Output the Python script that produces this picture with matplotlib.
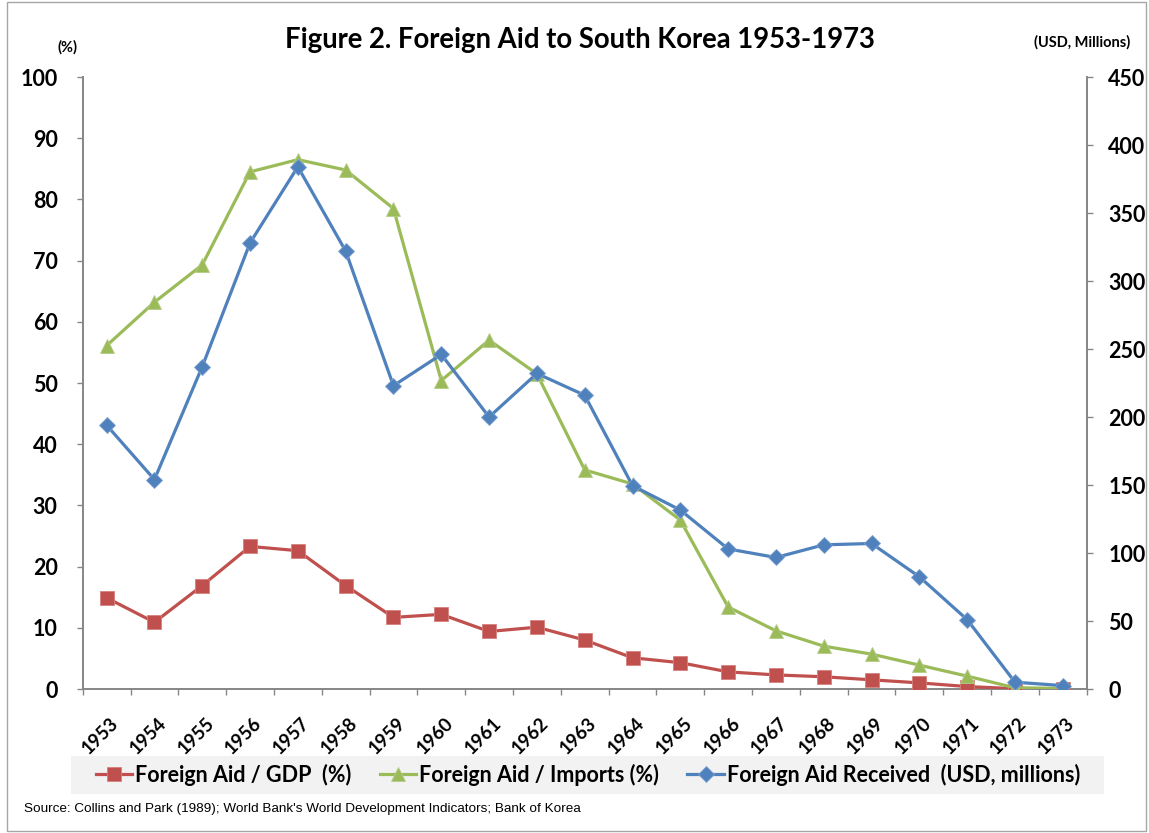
import matplotlib
matplotlib.use("Agg")
import matplotlib.pyplot as plt
from matplotlib.patches import Rectangle
from matplotlib.transforms import ScaledTranslation

years = [str(y) for y in range(1953, 1974)]
aid_gdp = [14.9, 10.9, 16.9, 23.3, 22.6, 16.9, 11.7, 12.2, 9.4, 10.1, 8.0,
           5.1, 4.3, 2.8, 2.3, 2.0, 1.5, 1.0, 0.4, 0.05, 0.05]
aid_imports = [56.1, 63.2, 69.3, 84.5, 86.5, 84.8, 78.5, 50.4, 57.0, 51.5, 35.8,
               33.5, 27.6, 13.4, 9.5, 7.0, 5.7, 3.9, 2.1, 0.2, 0.1]
aid_received = [194, 154, 237, 328, 384, 322, 223, 246, 200, 232, 216,
                149.5, 131.6, 103, 96.7, 106, 107, 82.5, 51, 5, 2.5]

left_ticks = list(range(0, 101, 10))
right_ticks = list(range(0, 451, 50))

title = "Figure 2. Foreign Aid to South Korea 1953-1973"
label_gdp = "Foreign Aid / GDP  (%)"
label_imp = "Foreign Aid / Imports (%)"
label_rec = "Foreign Aid Received  (USD, millions)"
source = "Source: Collins and Park (1989); World Bank's World Development Indicators; Bank of Korea"

RED = "#C0504D"
GREEN = "#9BBB59"
BLUE = "#4F81BD"
SPINE = "#868686"
FONT = ["Lato", "DejaVu Sans"]

plt.rcParams["font.family"] = FONT

W, H = 1149, 833
fig = plt.figure(figsize=(W / 100, H / 100), dpi=100)
fig.patch.set_facecolor("white")

L, R, T, B = 82.7, 1086.7, 77, 689
ax = fig.add_axes([L / W, 1 - B / H, (R - L) / W, (B - T) / H])
ax2 = ax.twinx()

x = list(range(len(years)))
lw = 2.3
l1, = ax.plot(x, aid_gdp, color=RED, lw=lw, marker="s", markersize=9.5,
              markeredgecolor="#D7807E", markeredgewidth=0.6, label=label_gdp, zorder=3)
l2, = ax.plot(x, aid_imports, color=GREEN, lw=lw, marker="^", markersize=10.5,
              markeredgecolor="#B4CC8A", markeredgewidth=0.6, label=label_imp, zorder=3)
l3, = ax2.plot(x, aid_received, color=BLUE, lw=lw, marker="D", markersize=8.5,
               markeredgecolor="#7DA1CF", markeredgewidth=0.6, label=label_rec, zorder=3)

ax.set_xlim(-0.5, len(years) - 0.5)
ax.set_ylim(0, 100)
ax2.set_ylim(0, 450)

for a in (ax, ax2):
    for s in a.spines.values():
        s.set_color(SPINE)
        s.set_linewidth(1.4)
    a.spines["top"].set_visible(False)
ax.spines["right"].set_visible(False)
ax2.spines["left"].set_visible(False)
ax2.spines["bottom"].set_visible(False)

ax.set_yticks(left_ticks)
ax.set_yticklabels([str(v) for v in left_ticks], fontsize=15.5, fontweight="bold")
ax.tick_params(axis="y", which="major", direction="out", length=4.5, width=1,
               color=SPINE, pad=13.5)
ax2.set_yticks(right_ticks)
ax2.set_yticklabels([str(v) for v in right_ticks], fontsize=15.5, fontweight="bold")
ax2.tick_params(axis="y", which="major", direction="out", length=4.5, width=1,
                color=SPINE, pad=11)

ax.set_xticks([i - 0.5 for i in range(len(years) + 1)])
ax.set_xticklabels([])
ax.tick_params(axis="x", which="major", direction="out", length=4.5, width=1, color=SPINE)
ax.set_xticks(x, minor=True)
ax.set_xticklabels(years, minor=True, rotation=45, ha="right", va="top",
                   rotation_mode="anchor", fontsize=13.5, fontweight="bold")
ax.tick_params(axis="x", which="minor", length=0, pad=18.5)
shift = ScaledTranslation(3 / 100, 0, fig.dpi_scale_trans)
for lab in ax.xaxis.get_minorticklabels():
    lab.set_transform(lab.get_transform() + shift)

fig.text(580 / W, 1 - 40 / H, title, ha="center", va="center",
         fontsize=19.8, fontweight="bold")
fig.text(68 / W, 1 - 47 / H, "(%)", ha="center", va="center",
         fontsize=10.5, fontweight="bold")
fig.text(1082 / W, 1 - 42 / H, "(USD, Millions)", ha="center", va="center",
         fontsize=10.5, fontweight="bold")

fig.patches.append(Rectangle((71 / W, 1 - 794 / H), (1104 - 71) / W, 38 / H,
                             transform=fig.transFigure, facecolor="#F2F2F2",
                             edgecolor="none", zorder=0))
leg = fig.legend(handles=[l1, l2, l3], loc="center", bbox_to_anchor=(588 / W, 1 - 775 / H),
                 ncol=3, frameon=False, handlelength=1.7, handletextpad=0.15,
                 columnspacing=1.3, prop={"family": FONT, "weight": "bold", "size": 15.5})

fig.text(24 / W, 1 - 809 / H, source, ha="left", va="center", fontsize=9.7,
         family=["Liberation Sans Narrow", "Liberation Sans", "DejaVu Sans"])

fig.patches.append(Rectangle((7 / W, 2 / H), (1146 - 7) / W, (831 - 2) / H,
                             transform=fig.transFigure, facecolor="none",
                             edgecolor="#A6A6A6", linewidth=1, zorder=0))

fig.savefig("out.png", dpi=100)
